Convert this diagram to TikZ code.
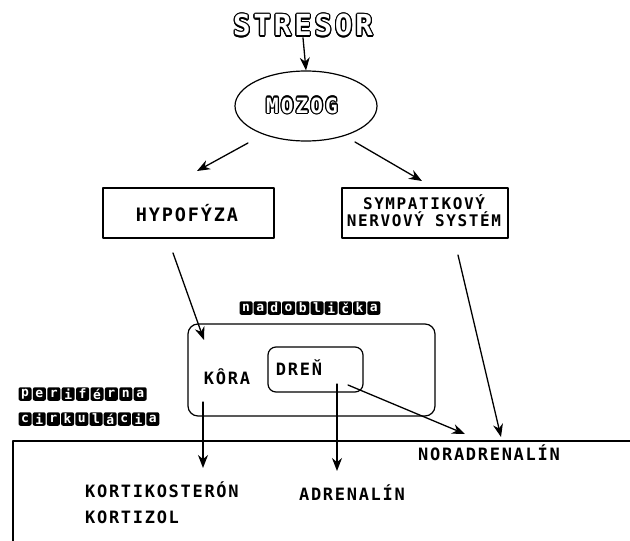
\documentclass[tikz,border=0pt]{standalone}
\usepackage{fontspec}
\usepackage[copies]{contour}
\usetikzlibrary{arrows.meta,calc,shapes.geometric}
\newfontfamily\dotfont[LetterSpace=10]{DejaVu Sans Mono}
\contourlength{1.2pt}

\tikzset{
  arr/.style    = {-{Stealth[length=13pt,width=10pt]}, line width=1.3pt},
  labelbox/.style = {draw, line width=1.3pt, inner sep=0pt},
  lbl/.style    = {inner sep=0pt, font=\dotfont\bfseries\fontsize{17}{20}\selectfont},
  capkey/.style = {fill=black, rounded corners=2pt, inner sep=0pt,
                   minimum width=13pt, minimum height=13.5pt, text=white,
                   font=\dotfont\bfseries\fontsize{13}{13}\selectfont}
}
% one word as a row of black keys with white letters
\newcommand\capword[4]{%
  \foreach \c [count=\i from 0] in {#4}
    \node[capkey] (#1-\i) at ($(#2)+(\i*#3,0)$) {\c};}

\begin{document}
\begin{tikzpicture}[x=1pt, y=-1pt, line cap=round, line join=round]
  \useasboundingbox (0,0) rectangle (630,541);

  % ---- Top: stressor and brain ----
  \node[inner sep=0pt, font=\dotfont\bfseries\fontsize{29}{30}\selectfont]
       (stresor) at (303,26) {\contour{black}{\textcolor{white}{STRESOR}}};
  \node[draw, ellipse, line width=1.2pt, minimum width=142pt, minimum height=70pt]
       (mozog) at (306,106) {};
  \node[inner sep=0pt, font=\dotfont\bfseries\fontsize{21}{22}\selectfont]
       (mozogtxt) at (302,106) {\contour{black}{\textcolor{white}{MOZOG}}};

  % ---- Second row ----
  \node[labelbox, minimum width=171pt, minimum height=50pt] (hyp) at (188.5,213) {};
  \node[lbl, font=\dotfont\bfseries\fontsize{18.5}{20}\selectfont] (hyptxt) at (187,213) {HYPOFÝZA};
  \node[labelbox, minimum width=166pt, minimum height=50pt] (sns) at (425,213) {};
  \node[lbl, align=center, font=\dotfont\bfseries\fontsize{16}{17}\selectfont]
       (snstxt) at (424,211) {SYMPATIKOVÝ\\NERVOVÝ SYSTÉM};

  % ---- Adrenal gland ----
  \capword{nad}{246,308}{14.2}{n,a,d,o,b,l,i,č,k,a}
  \node[draw, line width=1.2pt, rounded corners=10pt, minimum width=247pt,
        minimum height=92pt] (nadob) at (311.5,370) {};
  \node[draw, line width=1.2pt, rounded corners=8pt, minimum width=95pt,
        minimum height=45pt] (dren) at (315.5,369.5) {};
  \node[lbl] (kora)    at (227,377) {KÔRA};
  \node[lbl] (drentxt) at (299,368) {DREŇ};

  % ---- Peripheral circulation ----
  \capword{per}{25,394}{14.4}{p,e,r,i,f,é,r,n,a}
  \capword{cir}{25,419}{14.2}{c,i,r,k,u,l,á,c,i,a}
  \coordinate (frame-bl) at (13,541);
  \coordinate (frame-tl) at (13,441);
  \coordinate (frame-tr) at (630,441);
  \draw[line width=1.3pt] (frame-bl) -- (frame-tl) -- (frame-tr);

  % ---- Hormones ----
  \node[lbl] (noradr) at (489,453) {NORADRENALÍN};
  \node[lbl] (adr)    at (352,493) {ADRENALÍN};
  \node[lbl, anchor=west] (kortik) at (85,490) {KORTIKOSTERÓN};
  \node[lbl, anchor=west] (kortiz) at (85,517) {KORTIZOL};

  % ---- Connector ends ----
  \coordinate (mozog-l)  at (248,143);  \coordinate (hyp-in)   at (197,171);
  \coordinate (mozog-r)  at (355,142);  \coordinate (sns-in)   at (422,181);
  \coordinate (hyp-out)  at (173,253);  \coordinate (nad-in)   at (204,340);
  \coordinate (sns-out)  at (458,255);  \coordinate (sns-end)  at (501,437);
  \coordinate (kora-out) at (203,402);  \coordinate (kora-end) at (203,468);
  \coordinate (dren-out) at (337,384);  \coordinate (dren-end) at (337,471);
  \coordinate (dren-r)   at (348,385);  \coordinate (noradr-in) at (465,434);

  % ---- Directed edges ----
  \draw[arr] (stresor.south) -- (mozog.north);
  \draw[arr] (mozog-l)  -- (hyp-in);
  \draw[arr] (mozog-r)  -- (sns-in);
  \draw[arr] (hyp-out)  -- (nad-in);
  \draw[arr] (sns-out)  -- (sns-end);
  \draw[arr] (kora-out) -- (kora-end);
  \draw[arr] (dren-out) -- (dren-end);
  \draw[arr] (dren-r)   -- (noradr-in);
\end{tikzpicture}
\end{document}
